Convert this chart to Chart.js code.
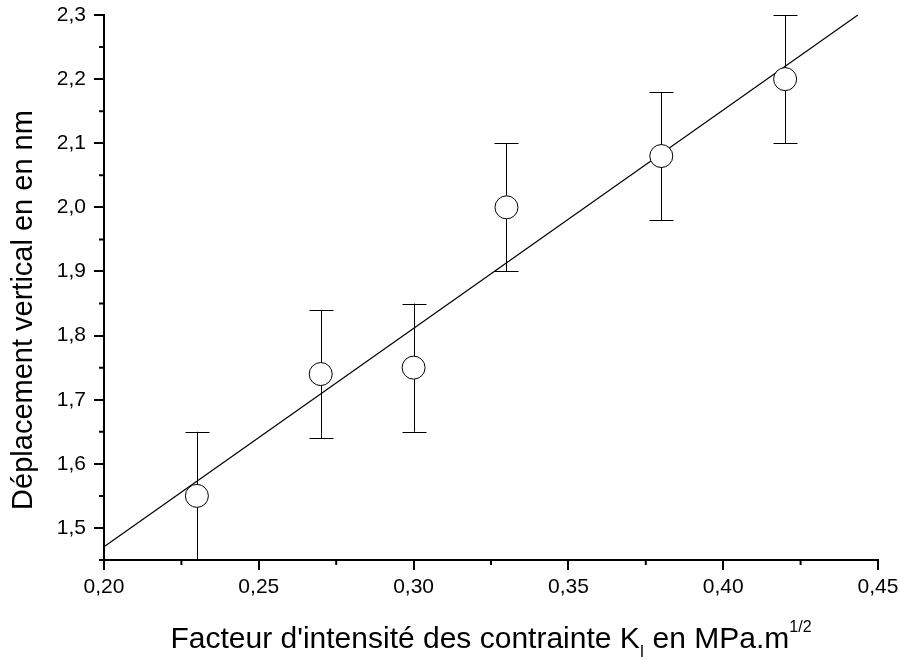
<!DOCTYPE html>
<html>
<head>
<meta charset="utf-8">
<script src="https://cdn.jsdelivr.net/npm/chart.js@4.4.1/dist/chart.umd.min.js"></script>
<style>
  html, body { margin: 0; padding: 0; background: #fff; }
  #wrap { width: 901px; height: 659px; }
</style>
</head>
<body>
<div id="wrap"><canvas id="myChart" width="901" height="659"></canvas></div>
<script>
// data
const kValues = [0.23, 0.27, 0.30, 0.33, 0.38, 0.42];
const dispValues = [1.55, 1.74, 1.75, 2.00, 2.08, 2.20];
const dispErrors = [0.10, 0.10, 0.10, 0.10, 0.10, 0.10];

// fitted straight line (end points)
const fitK = [0.20, 0.4435];
const fitDisp = [1.4705, 2.30];

const xTicks = [0.20, 0.25, 0.30, 0.35, 0.40, 0.45];
const yTicks = [1.5, 1.6, 1.7, 1.8, 1.9, 2.0, 2.1, 2.2, 2.3];

const FONT = "'Liberation Sans', Arial, sans-serif";

// error bars, minor ticks, axis titles
const extras = {
  id: "extras",
  beforeDatasetsDraw(chart) {
    const c = chart.ctx, xs = chart.scales.x, ys = chart.scales.y, a = chart.chartArea;
    c.save();
    c.beginPath();
    c.rect(a.left, a.top - 2, a.right - a.left, a.bottom - a.top + 2);
    c.clip();
    c.strokeStyle = "#000";
    c.lineWidth = 1;
    kValues.forEach((k, i) => {
      const px = Math.round(xs.getPixelForValue(k)) + 0.5;
      const top = ys.getPixelForValue(dispValues[i] + dispErrors[i]);
      const bot = ys.getPixelForValue(dispValues[i] - dispErrors[i]);
      c.beginPath();
      c.moveTo(px, top); c.lineTo(px, bot);
      c.moveTo(px - 12, Math.round(top) + 0.5); c.lineTo(px + 12, Math.round(top) + 0.5);
      c.moveTo(px - 12, Math.round(bot) + 0.5); c.lineTo(px + 12, Math.round(bot) + 0.5);
      c.stroke();
    });
    c.restore();
  },
  afterDraw(chart) {
    const c = chart.ctx, xs = chart.scales.x, ys = chart.scales.y, a = chart.chartArea;
    c.save();
    c.strokeStyle = "#000";
    c.lineWidth = 2;
    // minor ticks
    c.beginPath();
    for (let i = 0; i < xTicks.length - 1; i++) {
      const px = xs.getPixelForValue((xTicks[i] + xTicks[i + 1]) / 2);
      c.moveTo(px, a.bottom); c.lineTo(px, a.bottom + 5);
    }
    for (let i = 0; i < yTicks.length - 1; i++) {
      const py = ys.getPixelForValue((yTicks[i] + yTicks[i + 1]) / 2);
      c.moveTo(a.left, py); c.lineTo(a.left - 5, py);
    }
    const py0 = ys.getPixelForValue(1.45);
    c.moveTo(a.left, py0); c.lineTo(a.left - 5, py0);
    c.stroke();

    c.fillStyle = "#000";
    // y title
    c.save();
    c.translate(32, 310);
    c.rotate(-Math.PI / 2);
    c.font = "29px " + FONT;
    c.textAlign = "center";
    c.textBaseline = "alphabetic";
    c.fillText("Déplacement vertical en en nm", 0, 0);
    c.restore();

    // x title with subscript and superscript
    const parts = [
      { t: "Facteur d'intensité des contrainte K", s: 30, dy: 0 },
      { t: "I", s: 16, dy: 9 },
      { t: " en MPa.m", s: 30, dy: 0 },
      { t: "1/2", s: 16, dy: -16 }
    ];
    let w = 0;
    parts.forEach(p => { c.font = p.s + "px " + FONT; p.w = c.measureText(p.t).width; w += p.w; });
    let x = (a.left + a.right) / 2 - w / 2;
    const base = 648;
    c.textBaseline = "alphabetic";
    c.textAlign = "left";
    parts.forEach(p => {
      c.font = p.s + "px " + FONT;
      c.fillText(p.t, x, base + p.dy);
      x += p.w;
    });
    c.restore();
  }
};

const fmt = d => v => v.toFixed(d).replace(".", ",");

const ctx = document.getElementById("myChart").getContext("2d");
const myChart = new Chart(ctx, {
  type: "scatter",
  data: {
    datasets: [
      {
        label: "Mesures",
        data: kValues.map((k, i) => ({ x: k, y: dispValues[i] })),
        pointRadius: 11.5,
        pointHoverRadius: 11.5,
        pointBackgroundColor: "#fff",
        pointBorderColor: "#000",
        pointBorderWidth: 1,
        showLine: false
      },
      {
        label: "Ajustement",
        data: fitK.map((k, i) => ({ x: k, y: fitDisp[i] })),
        showLine: true,
        borderColor: "#000",
        borderWidth: 1.2,
        pointRadius: 0,
        fill: false
      }
    ]
  },
  options: {
    responsive: false,
    animation: false,
    events: [],
    layout: { padding: { left: 0, right: 23, top: 15, bottom: 0 } },
    plugins: { legend: { display: false }, tooltip: { enabled: false } },
    scales: {
      x: {
        type: "linear",
        min: 0.20,
        max: 0.45,
        afterFit: s => { s.height = 99; s.paddingLeft = 0; s.paddingRight = 0; },
        afterBuildTicks: s => { s.ticks = xTicks.map(v => ({ value: v })); },
        border: { display: true, color: "#000", width: 2 },
        grid: { drawOnChartArea: false, color: "#000", lineWidth: 2, tickLength: 10 },
        ticks: { color: "#000", padding: 5, maxRotation: 0, font: { family: FONT, size: 21 }, callback: fmt(2) }
      },
      y: {
        type: "linear",
        min: 1.45,
        max: 2.30,
        afterFit: s => { s.width = 104; s.paddingTop = 0; s.paddingBottom = 0; },
        afterBuildTicks: s => { s.ticks = yTicks.map(v => ({ value: v })); },
        border: { display: true, color: "#000", width: 2 },
        grid: { drawOnChartArea: false, color: "#000", lineWidth: 2, tickLength: 10 },
        ticks: { color: "#000", padding: 8, font: { family: FONT, size: 21 }, callback: fmt(1) }
      }
    }
  },
  plugins: [extras]
});
</script>
</body>
</html>
